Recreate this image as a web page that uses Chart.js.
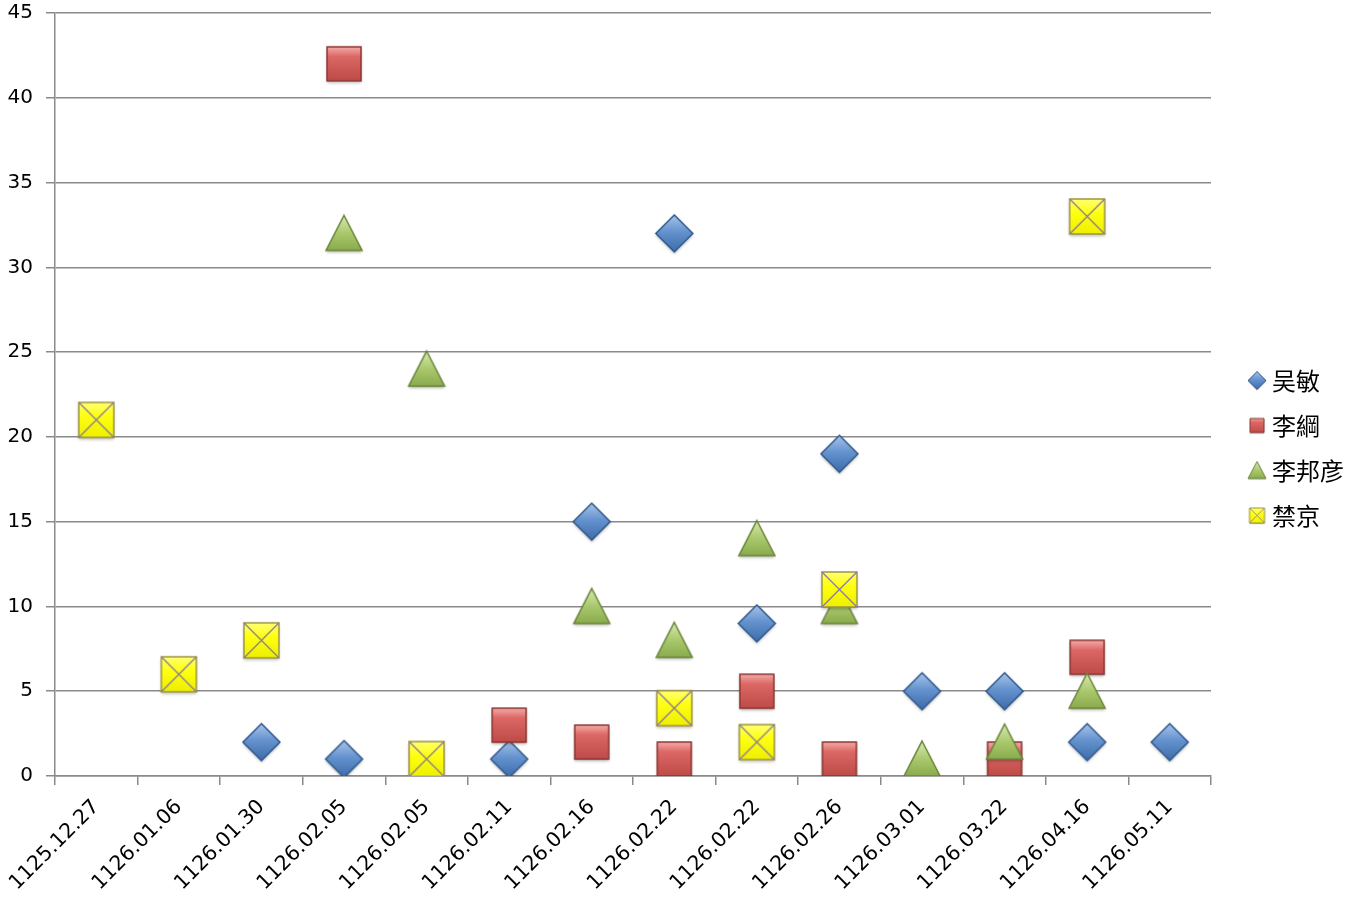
<!DOCTYPE html>
<html>
<head>
<meta charset="utf-8">
<style>
  html, body { margin: 0; padding: 0; background: #ffffff; }
  #chart { display: block; }
</style>
<script src="https://cdn.jsdelivr.net/npm/chart.js@4"></script>
</head>
<body>
<canvas id="chart" width="1350" height="897"></canvas>
<script>
// categories (dates appear twice in the source sheet, kept as they are)
const dates = [
  '1125.12.27', '1126.01.06', '1126.01.30', '1126.02.05', '1126.02.05',
  '1126.02.11', '1126.02.16', '1126.02.22', '1126.02.22', '1126.02.26',
  '1126.03.01', '1126.03.22', '1126.04.16', '1126.05.11'
];

// one value per date, null where the person has no mark
const wuMin     = [null, null, 2, 1, null, 1, 15, 32, 9, 19, 5, 5, 2, 2];
const liGang    = [null, null, null, 42, null, 3, 2, 1, 5, 1, null, 1, 7, null];
const liBangyan = [null, null, null, 32, 24, null, 10, 8, 14, 10, 1, 2, 5, null];
const caiJing   = [21, 6, 8, null, 1, null, null, 4, 2, 11, null, null, 33, null];

const seriesNames = ['吴敏', '李綱', '李邦彦', '禁京'];
const yTicks = [0, 5, 10, 15, 20, 25, 30, 35, 40, 45];

// --- marker pictures, drawn once on small canvases ---
function makeMarker(kind, size) {
  const pad = 4;
  const c = document.createElement('canvas');
  c.width = size + pad * 2;
  c.height = size + pad * 2;
  const ctx = c.getContext('2d');
  const a = pad, b = pad + size, m = pad + size / 2;

  ctx.shadowColor = 'rgba(0,0,0,0.28)';
  ctx.shadowBlur = size > 20 ? 3 : 1;
  ctx.shadowOffsetY = size > 20 ? 2 : 1;

  ctx.beginPath();
  let g = ctx.createLinearGradient(0, a, 0, b);
  if (kind === 'diamond') {
    ctx.moveTo(m, a); ctx.lineTo(b, m); ctx.lineTo(m, b); ctx.lineTo(a, m);
    g.addColorStop(0, '#a8c4ea');
    g.addColorStop(0.45, '#6593cf');
    g.addColorStop(1, '#3d6cab');
    ctx.strokeStyle = '#2d5689';
  } else if (kind === 'square') {
    ctx.rect(a + 1, a + 1, size - 2, size - 2);
    g.addColorStop(0, '#f6b3b1');
    g.addColorStop(0.3, '#dc6764');
    g.addColorStop(1, '#bd4a47');
    ctx.strokeStyle = '#8a3431';
  } else if (kind === 'triangle') {
    ctx.moveTo(m, a); ctx.lineTo(b, b - 1); ctx.lineTo(a, b - 1);
    g.addColorStop(0, '#d8eab4');
    g.addColorStop(0.5, '#a9c86c');
    g.addColorStop(1, '#88aa4b');
    ctx.strokeStyle = '#6a8538';
  } else {
    ctx.rect(a + 1, a + 1, size - 2, size - 2);
    g.addColorStop(0, '#ffff7a');
    g.addColorStop(0.4, '#ffff10');
    g.addColorStop(1, '#eeee00');
    ctx.strokeStyle = '#9d9640';
  }
  ctx.closePath();
  ctx.fillStyle = g;
  ctx.fill();
  ctx.shadowColor = 'transparent';
  ctx.lineWidth = size > 20 ? 1.5 : 1;
  ctx.stroke();

  if (kind === 'cross') {
    ctx.beginPath();
    ctx.moveTo(a + 1, a + 1); ctx.lineTo(b - 1, b - 1);
    ctx.moveTo(b - 1, a + 1); ctx.lineTo(a + 1, b - 1);
    ctx.strokeStyle = '#86789a';
    ctx.lineWidth = size > 20 ? 1.2 : 0.8;
    ctx.stroke();
  }
  return c;
}

const kinds = ['diamond', 'square', 'triangle', 'cross'];
const bigSize = [37, 36, 36, 37];
const smallSize = [18, 16, 18, 17];
const bigMarkers = kinds.map((k, i) => makeMarker(k, bigSize[i]));
const smallMarkers = kinds.map((k, i) => makeMarker(k, smallSize[i]));

const gridGray = '#8a8a8a';

// push the legend a little away from the plot, as in the sheet
const legendShift = {
  id: 'legendShift',
  afterLayout(chart) {
    chart.legend.left += 22;
    chart.legend.right += 22;
    chart.legend.top -= 7;
    chart.legend.bottom -= 7;
  }
};

const ctx = document.getElementById('chart').getContext('2d');
new Chart(ctx, {
  type: 'line',
  data: {
    labels: dates,
    datasets: [wuMin, liGang, liBangyan, caiJing].map((vals, i) => ({
      label: seriesNames[i],
      data: vals,
      showLine: false,
      pointStyle: bigMarkers[i],
      pointRadius: 18,
      order: 4 - i // later series drawn on top
    }))
  },
  options: {
    responsive: false,
    animation: false,
    layout: { autoPadding: false, padding: { top: 13, right: 18, bottom: 0, left: 0 } },
    plugins: {
      tooltip: { enabled: false },
      legend: {
        position: 'right',
        labels: {
          usePointStyle: true,
          pointStyleWidth: 6,
          padding: 21,
          color: '#000000',
          font: { family: '"Noto Sans CJK SC", "Noto Sans", sans-serif', size: 24 },
          sort: (a, b) => a.datasetIndex - b.datasetIndex,
          generateLabels(chart) {
            const items = Chart.defaults.plugins.legend.labels.generateLabels(chart);
            items.forEach(it => { it.pointStyle = smallMarkers[it.datasetIndex]; });
            return items;
          }
        }
      }
    },
    scales: {
      x: {
        offset: true,
        afterFit(scale) { scale.height = 121; },
        grid: {
          offset: true,
          drawOnChartArea: false,
          drawTicks: true,
          tickLength: 9,
          color: gridGray,
          lineWidth: 1.5
        },
        border: { color: gridGray, width: 1.5 },
        ticks: {
          minRotation: 45,
          maxRotation: 45,
          autoSkip: false,
          padding: 10,
          color: '#000000',
          font: { family: '"DejaVu Sans", sans-serif', size: 20.5 }
        }
      },
      y: {
        min: 0,
        max: 45,
        afterFit(scale) {
          scale.width = 55;
          scale.paddingTop = 0;
          scale.paddingBottom = 0;
        },
        afterBuildTicks(scale) { scale.ticks = yTicks.map(v => ({ value: v })); },
        grid: {
          color: gridGray,
          lineWidth: 1.5,
          drawTicks: true,
          tickLength: 9
        },
        border: { color: gridGray, width: 1.5 },
        ticks: {
          padding: 13,
          color: '#000000',
          font: { family: '"DejaVu Sans", sans-serif', size: 20 }
        }
      }
    }
  },
  plugins: [legendShift]
});
</script>
</body>
</html>
